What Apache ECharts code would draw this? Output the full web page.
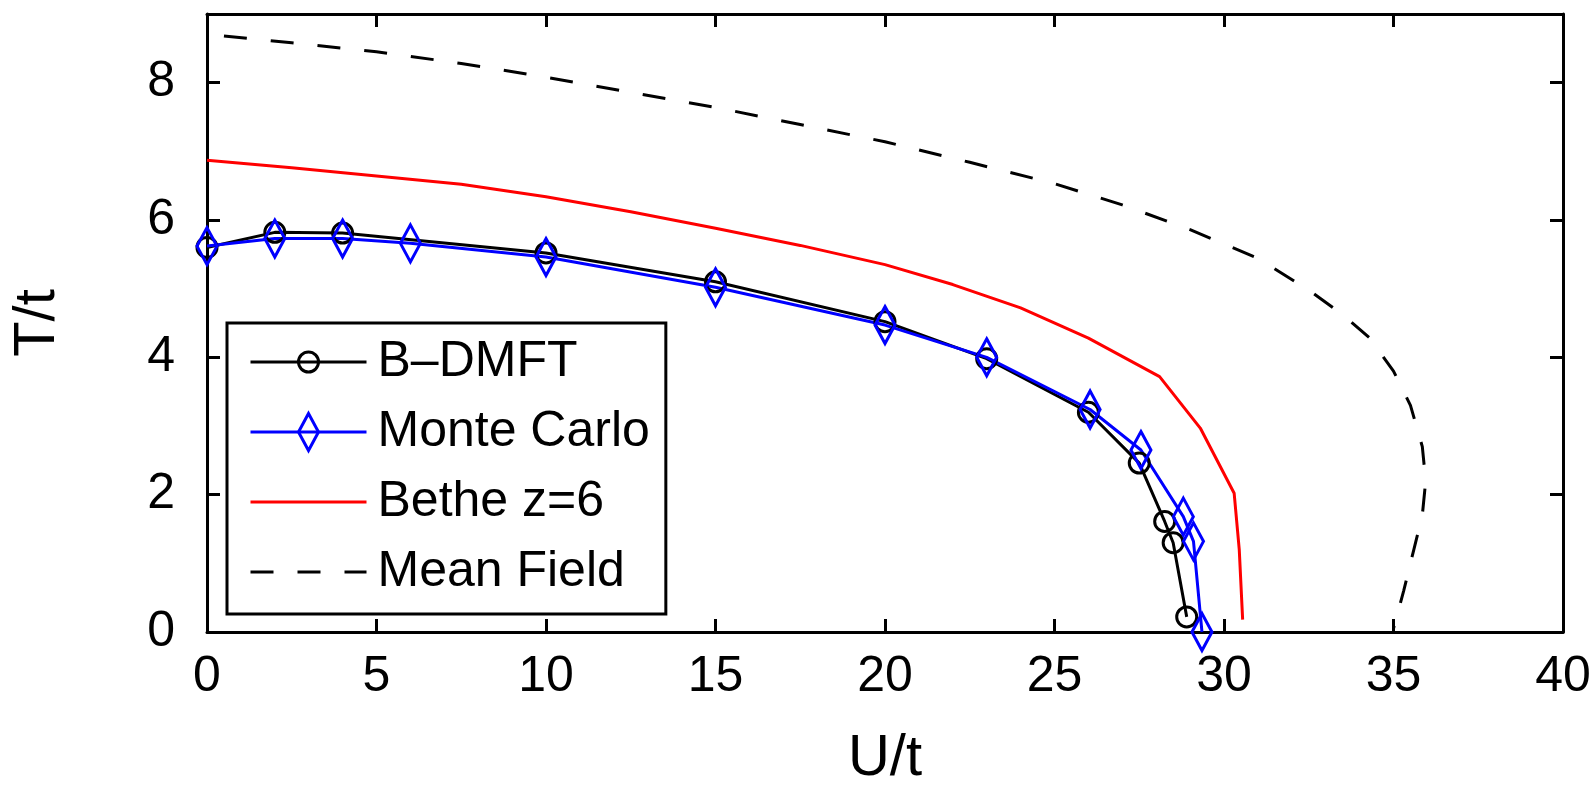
<!DOCTYPE html>
<html>
<head>
<meta charset="utf-8">
<script src="https://cdn.jsdelivr.net/npm/echarts@6/dist/echarts.min.js"></script>
<style>
  html, body { margin: 0; padding: 0; background: #fff; }
  #chart { width: 1594px; height: 793px; }
</style>
</head>
<body>
<div id="chart"></div>
<script>
// B-DMFT (black circles)
const bdmftU = [0, 2, 4, 10, 15, 20, 23, 26, 27.5, 28.25, 28.5, 28.9];
const bdmftT = [5.6, 5.82, 5.81, 5.52, 5.1, 4.52, 3.98, 3.2, 2.46, 1.61, 1.3, 0.22];
// Monte Carlo (blue diamonds)
const mcU = [0, 2, 4, 6, 10, 15, 20, 23, 26.05, 27.55, 28.8, 29.1, 29.35];
const mcT = [5.62, 5.73, 5.73, 5.66, 5.46, 5.02, 4.47, 4.0, 3.24, 2.65, 1.68, 1.32, 0.0];
// Bethe z=6 (red line)
const betheU = [0, 2.5, 5, 7.5, 10, 12.5, 15, 17.5, 20, 22, 24, 26, 28.1, 29.3, 30.3, 30.45, 30.55];
const betheT = [6.87, 6.76, 6.64, 6.52, 6.34, 6.12, 5.88, 5.63, 5.35, 5.06, 4.72, 4.28, 3.72, 2.97, 2.02, 1.2, 0.18];
// Mean Field (dashed)
const mfU = [0.5, 2.5, 5, 7.5, 10, 12.5, 15, 17.5, 20, 22.5, 25, 27, 29, 31, 32.5, 33.5, 34.3, 35, 35.5, 35.85, 35.95, 35.85, 35.6, 35.3, 35.0];
const mfT = [8.68, 8.58, 8.45, 8.28, 8.08, 7.86, 7.64, 7.39, 7.14, 6.84, 6.53, 6.22, 5.86, 5.44, 4.98, 4.62, 4.28, 3.8, 3.3, 2.7, 2.2, 1.7, 1.2, 0.6, 0.05];

const xTicks = { min: 0, max: 40, step: 5 };
const yTicks = { min: 0, max: 9, step: 2 };

const font = "'Liberation Sans', Arial, Helvetica, sans-serif";
const circleSym = 'path://M-20,-20M20,20M10,0A10,10,0,1,1,-10,0A10,10,0,1,1,10,0Z';
const diamondSym = 'path://M-20,-20M20,20M0,-18.5L10,0L0,18.5L-10,0Z';

function pairs(xs, ys) {
    return xs.map((x, i) => [x, ys[i]]);
}

const chart = echarts.init(document.getElementById('chart'));

const axisLine = { onZero: false, lineStyle: { color: '#000', width: 3 } };
const axisTick = { inside: true, length: 13, lineStyle: { color: '#000', width: 3 } };

const option = {
    animation: false,
    backgroundColor: '#fff',
    grid: { left: 207, right: 31, top: 14, bottom: 161 },
    xAxis: [
        {
            type: 'value', position: 'bottom',
            min: xTicks.min, max: xTicks.max, interval: xTicks.step,
            name: 'U/t', nameLocation: 'middle', nameGap: 98,
            nameTextStyle: { fontSize: 58, color: '#000', fontFamily: font },
            axisLine: axisLine, axisTick: axisTick,
            axisLabel: { fontSize: 50, color: '#000', fontFamily: font, margin: 20 },
            splitLine: { show: false }
        },
        {
            type: 'value', position: 'top',
            min: xTicks.min, max: xTicks.max, interval: xTicks.step,
            axisLine: axisLine, axisTick: axisTick,
            axisLabel: { show: false }, splitLine: { show: false }
        }
    ],
    yAxis: [
        {
            type: 'value', position: 'left',
            min: yTicks.min, max: yTicks.max, interval: yTicks.step,
            name: 'T/t', nameLocation: 'middle', nameGap: 140,
            nameTextStyle: { fontSize: 58, color: '#000', fontFamily: font },
            axisLine: axisLine, axisTick: axisTick,
            axisLabel: { fontSize: 50, color: '#000', fontFamily: font, margin: 32, showMaxLabel: false },
            splitLine: { show: false }
        },
        {
            type: 'value', position: 'right',
            min: yTicks.min, max: yTicks.max, interval: yTicks.step,
            axisLine: axisLine, axisTick: axisTick,
            axisLabel: { show: false }, splitLine: { show: false }
        }
    ],
    legend: {
        orient: 'vertical',
        left: 227, top: 323,
        itemWidth: 116, itemHeight: 50, itemGap: 20,
        padding: [14, 16, 17, 22],
        borderColor: '#000', borderWidth: 3,
        backgroundColor: '#fff',
        selectedMode: false,
        textStyle: { fontSize: 50, color: '#000', fontFamily: font, padding: [0, 0, 0, 6] },
        lineStyle: { width: 3 },
        data: [
            { name: 'B–DMFT', itemStyle: { borderWidth: 3 } },
            { name: 'Monte Carlo', itemStyle: { borderWidth: 3 } },
            { name: 'Bethe z=6', itemStyle: { borderWidth: 0 } },
            { name: 'Mean Field', itemStyle: { borderWidth: 0 } }
        ]
    },
    series: [
        {
            name: 'B–DMFT', type: 'line',
            data: pairs(bdmftU, bdmftT),
            symbol: circleSym, symbolSize: 40,
            itemStyle: { color: 'transparent', borderColor: '#000', borderWidth: 3 },
            lineStyle: { color: '#000', width: 3 }
        },
        {
            name: 'Monte Carlo', type: 'line',
            data: pairs(mcU, mcT),
            symbol: diamondSym, symbolSize: 40,
            itemStyle: { color: 'transparent', borderColor: '#0000ff', borderWidth: 3 },
            lineStyle: { color: '#0000ff', width: 3 }
        },
        {
            name: 'Bethe z=6', type: 'line',
            data: pairs(betheU, betheT),
            symbol: 'none',
            itemStyle: { color: 'transparent', borderColor: '#ff0000', borderWidth: 0 },
            lineStyle: { color: '#ff0000', width: 3 }
        },
        {
            name: 'Mean Field', type: 'line',
            data: pairs(mfU, mfT),
            symbol: 'none',
            itemStyle: { color: 'transparent', borderColor: '#000', borderWidth: 0 },
            lineStyle: { color: '#000', width: 3, type: [23, 24] }
        }
    ]
};

chart.setOption(option);
</script>
</body>
</html>
